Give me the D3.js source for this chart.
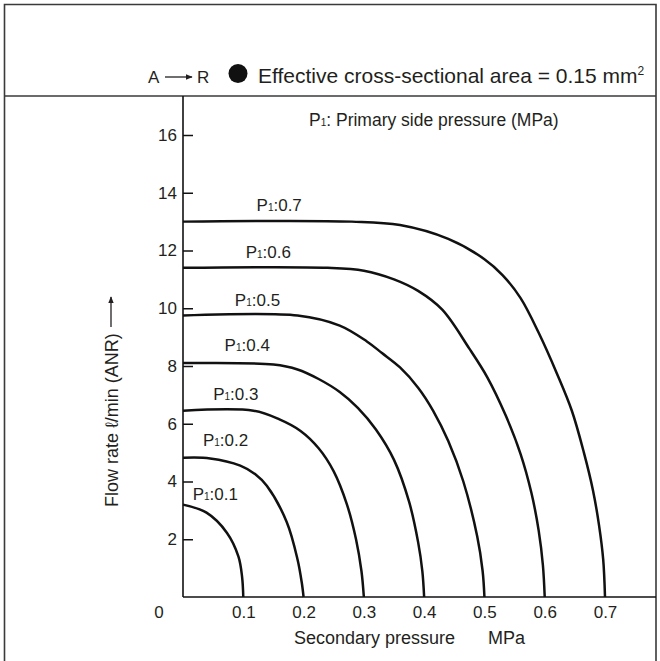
<!DOCTYPE html>
<html>
<head>
<meta charset="utf-8">
<script src="https://cdn.jsdelivr.net/npm/d3@7"></script>
<style>
  body { margin: 0; background: #fff; }
  svg { display: block; }
</style>
</head>
<body>
<div id="flow-chart"></div>
<script>
/**
 * Flow rate characteristics, A -> R
 */

var pressureTicks = [0.1, 0.2, 0.3, 0.4, 0.5, 0.6, 0.7];
var flowTicks = [2, 4, 6, 8, 10, 12, 14, 16];

// P1 levels (MPa) and their curves [secondary pressure MPa, flow l/min]
var p1Levels = ["0.1", "0.2", "0.3", "0.4", "0.5", "0.6", "0.7"];

var curveP01 = [[0, 3.2], [0.039, 2.92], [0.073, 2.22], [0.092, 1.4], [0.098, 0.7], [0.1, 0]];
var curveP02 = [[0, 4.82], [0.045, 4.8], [0.095, 4.55], [0.12, 4.25], [0.139, 3.85], [0.172, 2.6], [0.19, 1.3], [0.197, 0.5], [0.2, 0]];
var curveP03 = [[0, 6.45], [0.117, 6.45], [0.16, 6.15], [0.195, 5.75], [0.225, 5.15], [0.25, 4.35], [0.272, 3.2], [0.287, 2.0], [0.296, 0.9], [0.3, 0]];
var curveP04 = [[0, 8.1], [0.15, 8.05], [0.19, 7.88], [0.225, 7.55], [0.26, 7.1], [0.29, 6.55], [0.32, 5.8], [0.35, 4.75], [0.375, 3.3], [0.39, 1.9], [0.397, 0.9], [0.4, 0]];
var curveP05 = [[0, 9.75], [0.19, 9.75], [0.26, 9.4], [0.305, 8.85], [0.33, 8.45], [0.36, 7.95], [0.39, 7.25], [0.415, 6.45], [0.44, 5.4], [0.465, 4.0], [0.488, 2.1], [0.497, 0.9], [0.5, 0]];
var curveP06 = [[0, 11.4], [0.24, 11.4], [0.3, 11.3], [0.35, 11.0], [0.39, 10.6], [0.43, 9.95], [0.475, 8.6], [0.505, 7.6], [0.535, 6.3], [0.56, 4.95], [0.578, 3.6], [0.59, 2.3], [0.597, 1.1], [0.6, 0]];
var curveP07 = [[0, 13.0], [0.28, 13.0], [0.36, 12.88], [0.44, 12.4], [0.5, 11.7], [0.53, 11.15], [0.56, 10.35], [0.59, 9.15], [0.62, 7.75], [0.645, 6.45], [0.665, 5.0], [0.68, 3.7], [0.69, 2.5], [0.697, 1.3], [0.7, 0]];

// where each "P1:x" label sits (data units)
var labelPressure = [0.016, 0.033, 0.05, 0.069, 0.086, 0.104, 0.122];
var labelFlow = [3.35, 5.22, 6.81, 8.51, 10.09, 11.74, 13.38];

drawFlowChart();

function drawFlowChart() {
    var width = 660,
        height = 661;
    var textColor = "#231f20";
    var font = "'Liberation Sans', Arial, sans-serif";

    var svg = d3.select("#flow-chart").append("svg")
        .attr("width", width)
        .attr("height", height)
        .style("font-family", font);

    var x = d3.scaleLinear().domain([0, 0.7]).range([183, 605]);
    var y = d3.scaleLinear().domain([0, 16]).range([597, 135]);

    var headerY = 96,
        frameRight = 656;

    // frame
    svg.append("path")
        .attr("d", "M4.5," + height + "V4.5H" + frameRight + "V" + height)
        .attr("fill", "none")
        .attr("stroke", "#3a3a3a")
        .attr("stroke-width", 1.6);
    svg.append("line")
        .attr("x1", 4).attr("x2", frameRight)
        .attr("y1", headerY).attr("y2", headerY)
        .attr("stroke", "#3a3a3a")
        .attr("stroke-width", 1.6);

    // header
    var defs = svg.append("defs");
    defs.append("marker")
        .attr("id", "arrowhead")
        .attr("viewBox", "0 0 10 10")
        .attr("refX", 9).attr("refY", 5)
        .attr("markerWidth", 7).attr("markerHeight", 7)
        .attr("markerUnits", "userSpaceOnUse")
        .attr("orient", "auto")
        .append("path")
        .attr("d", "M0,1L10,5L0,9Z")
        .attr("fill", textColor);

    svg.append("text")
        .attr("x", 148).attr("y", 83)
        .attr("font-size", "17px")
        .attr("fill", textColor)
        .text("A");
    svg.append("line")
        .attr("x1", 165).attr("x2", 192)
        .attr("y1", 77).attr("y2", 77)
        .attr("stroke", textColor)
        .attr("stroke-width", 1.3)
        .attr("marker-end", "url(#arrowhead)");
    svg.append("text")
        .attr("x", 197).attr("y", 83)
        .attr("font-size", "17px")
        .attr("fill", textColor)
        .text("R");
    svg.append("circle")
        .attr("cx", 238).attr("cy", 73.5)
        .attr("r", 9.5)
        .attr("fill", "#111");
    var head = svg.append("text")
        .attr("x", 258).attr("y", 83)
        .attr("font-size", "21px")
        .attr("fill", textColor);
    head.append("tspan").text("Effective cross-sectional area = 0.15 mm");
    head.append("tspan")
        .attr("font-size", "12px")
        .attr("dy", "-8")
        .text("2");

    // axes lines
    svg.append("line")
        .attr("x1", x(0)).attr("x2", x(0))
        .attr("y1", headerY).attr("y2", y(0))
        .attr("stroke", "#111")
        .attr("stroke-width", 1.6);
    svg.append("line")
        .attr("x1", x(0)).attr("x2", frameRight)
        .attr("y1", y(0)).attr("y2", y(0))
        .attr("stroke", "#111")
        .attr("stroke-width", 1.6);

    // y axis ticks pointing inward
    var yAxis = svg.append("g")
        .attr("transform", "translate(" + x(0) + ",0)")
        .call(d3.axisLeft(y)
            .tickValues(flowTicks)
            .tickSizeInner(-10)
            .tickSizeOuter(0)
            .tickPadding(6));
    yAxis.select(".domain").remove();
    yAxis.selectAll(".tick line")
        .attr("stroke", "#111")
        .attr("stroke-width", 1.5);
    yAxis.selectAll(".tick text")
        .attr("font-family", font)
        .attr("font-size", "17px")
        .attr("fill", textColor);

    // x axis labels only
    var xAxis = svg.append("g")
        .attr("transform", "translate(0," + y(0) + ")")
        .call(d3.axisBottom(x)
            .tickValues(pressureTicks)
            .tickFormat(d3.format(".1f"))
            .tickSize(0)
            .tickPadding(9));
    xAxis.select(".domain").remove();
    xAxis.selectAll(".tick text")
        .attr("font-family", font)
        .attr("font-size", "17px")
        .attr("fill", textColor);

    svg.append("text")
        .attr("x", x(0) - 24).attr("y", 618)
        .attr("text-anchor", "middle")
        .attr("font-size", "17px")
        .attr("fill", textColor)
        .text("0");

    // axis titles
    svg.append("text")
        .attr("x", 294).attr("y", 644)
        .attr("font-size", "18px")
        .attr("fill", textColor)
        .text("Secondary pressure");
    svg.append("text")
        .attr("x", 488).attr("y", 644)
        .attr("font-size", "18px")
        .attr("fill", textColor)
        .text("MPa");

    var yTitle = svg.append("g")
        .attr("transform", "translate(118,507) rotate(-90)");
    yTitle.append("text")
        .attr("x", 0).attr("y", 0)
        .attr("font-size", "18px")
        .attr("fill", textColor)
        .text("Flow rate \u2113/min (ANR)");
    yTitle.append("line")
        .attr("x1", 180).attr("x2", 210)
        .attr("y1", -7).attr("y2", -7)
        .attr("stroke", textColor)
        .attr("stroke-width", 1.3)
        .attr("marker-end", "url(#arrowhead)");

    // legend note
    var note = svg.append("text")
        .attr("x", 309).attr("y", 126)
        .attr("font-size", "17.5px")
        .attr("fill", textColor);
    note.append("tspan").text("P");
    note.append("tspan").attr("font-size", "10px").text("1");
    note.append("tspan").text(": Primary side pressure (MPa)");

    // curves
    var curves = [curveP01, curveP02, curveP03, curveP04, curveP05, curveP06, curveP07];
    var line = d3.line()
        .x(function (d) { return x(d[0]); })
        .y(function (d) { return y(d[1]); })
        .curve(d3.curveCatmullRom.alpha(0.5));

    svg.selectAll(".flow-curve")
        .data(curves)
        .enter().append("path")
        .attr("class", "flow-curve")
        .attr("d", line)
        .attr("fill", "none")
        .attr("stroke", "#111")
        .attr("stroke-width", 2.5)
        .attr("stroke-linejoin", "round");

    var labels = svg.selectAll(".curve-label")
        .data(p1Levels)
        .enter().append("text")
        .attr("class", "curve-label")
        .attr("x", function (d, i) { return x(labelPressure[i]); })
        .attr("y", function (d, i) { return y(labelFlow[i]); })
        .attr("font-size", "17px")
        .attr("fill", textColor);
    labels.append("tspan").text("P");
    labels.append("tspan").attr("font-size", "10px").text("1");
    labels.append("tspan").text(function (d) { return ":" + d; });
}
</script>
</body>
</html>
